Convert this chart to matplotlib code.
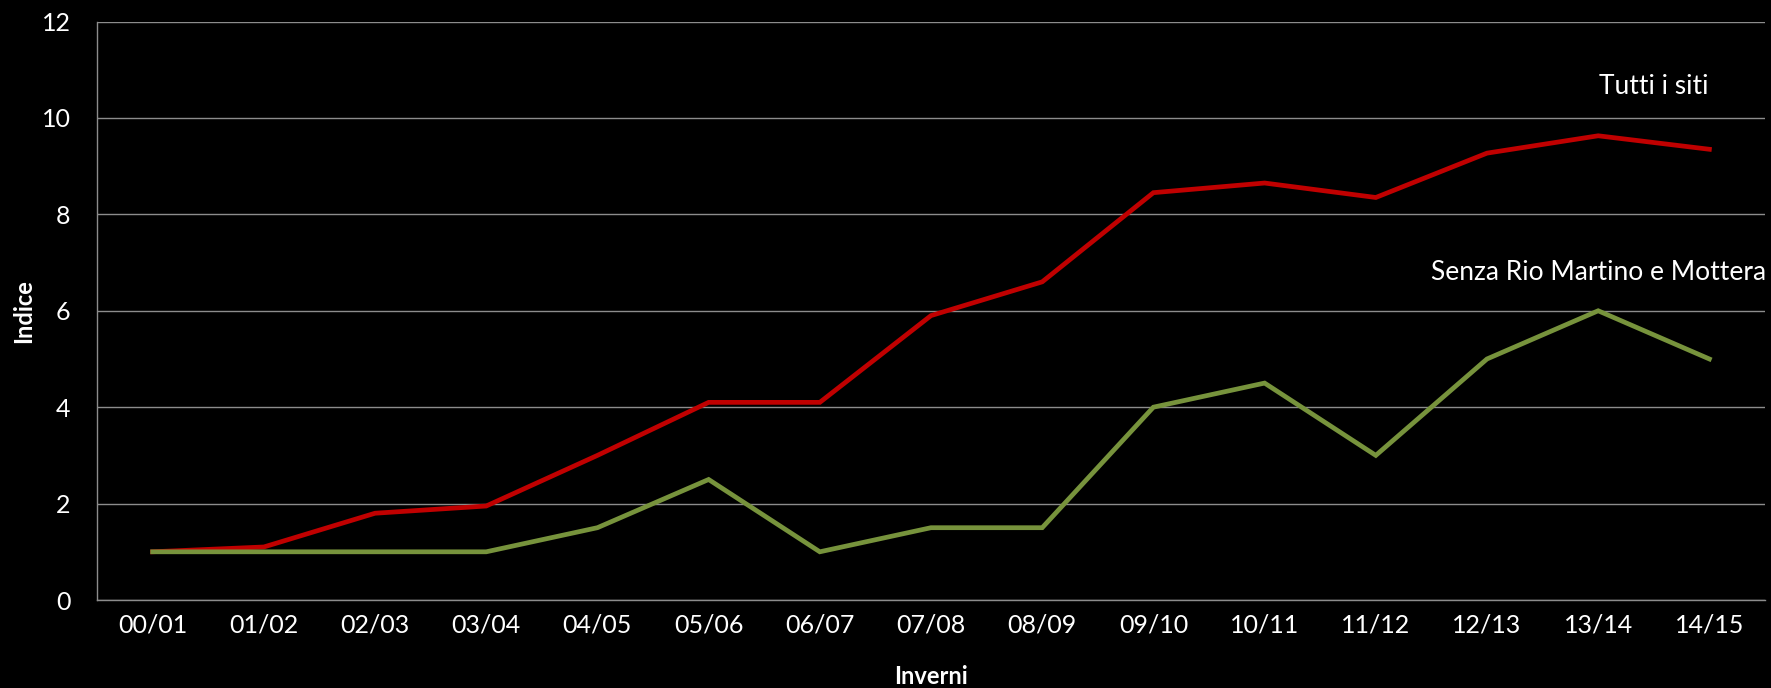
import matplotlib.pyplot as plt

# winters and index values
winters = ["00/01", "01/02", "02/03", "03/04", "04/05", "05/06", "06/07", "07/08",
           "08/09", "09/10", "10/11", "11/12", "12/13", "13/14", "14/15"]
tutti_i_siti = [1.0, 1.1, 1.8, 1.95, 3.0, 4.1, 4.1, 5.9, 6.6, 8.45, 8.65, 8.35, 9.27, 9.63, 9.35]
senza_rio_mottera = [1.0, 1.0, 1.0, 1.0, 1.5, 2.5, 1.0, 1.5, 1.5, 4.0, 4.5, 3.0, 5.0, 6.0, 5.0]
y_ticks = [0, 2, 4, 6, 8, 10, 12]

plt.rcParams['font.family'] = ['Lato', 'DejaVu Sans']

fig = plt.figure(figsize=(17.71, 6.88), dpi=100, facecolor="black")
ax = fig.add_axes([0.0548, 0.1279, 0.9418, 0.8408], facecolor="black")

x = list(range(len(winters)))
ax.plot(x, tutti_i_siti, color="#C00000", lw=3.4, solid_joinstyle="miter", zorder=3)
ax.plot(x, senza_rio_mottera, color="#77933C", lw=3.4, solid_joinstyle="miter", zorder=3)

ax.set_xlim(-0.5, len(winters) - 0.5)
ax.set_ylim(0, 12)
ax.set_yticks(y_ticks)
ax.set_xticks(x)
ax.set_xticklabels(winters)
ax.grid(axis="y", color="#8c8c8c", lw=1)
ax.set_axisbelow(True)

for side in ["top", "right"]:
    ax.spines[side].set_visible(False)
for side in ["left", "bottom"]:
    ax.spines[side].set_color("#8c8c8c")
    ax.spines[side].set_linewidth(1)

ax.tick_params(axis="y", length=0, pad=19, labelsize=18, labelcolor="white")
ax.tick_params(axis="x", length=0, pad=10, labelsize=18, labelcolor="white")

ax.set_ylabel("Indice", color="white", fontsize=17, fontweight="bold", labelpad=5)
ax.set_xlabel("Inverni", color="white", fontsize=17, fontweight="bold", labelpad=20)

ax.text(13.5, 10.65, "Tutti i siti", color="white", fontsize=19, ha="center", va="center")
ax.text(13.0, 6.8, "Senza Rio Martino e Mottera", color="white", fontsize=19,
        ha="center", va="center")

plt.savefig("out.png", dpi=100, facecolor="black")
